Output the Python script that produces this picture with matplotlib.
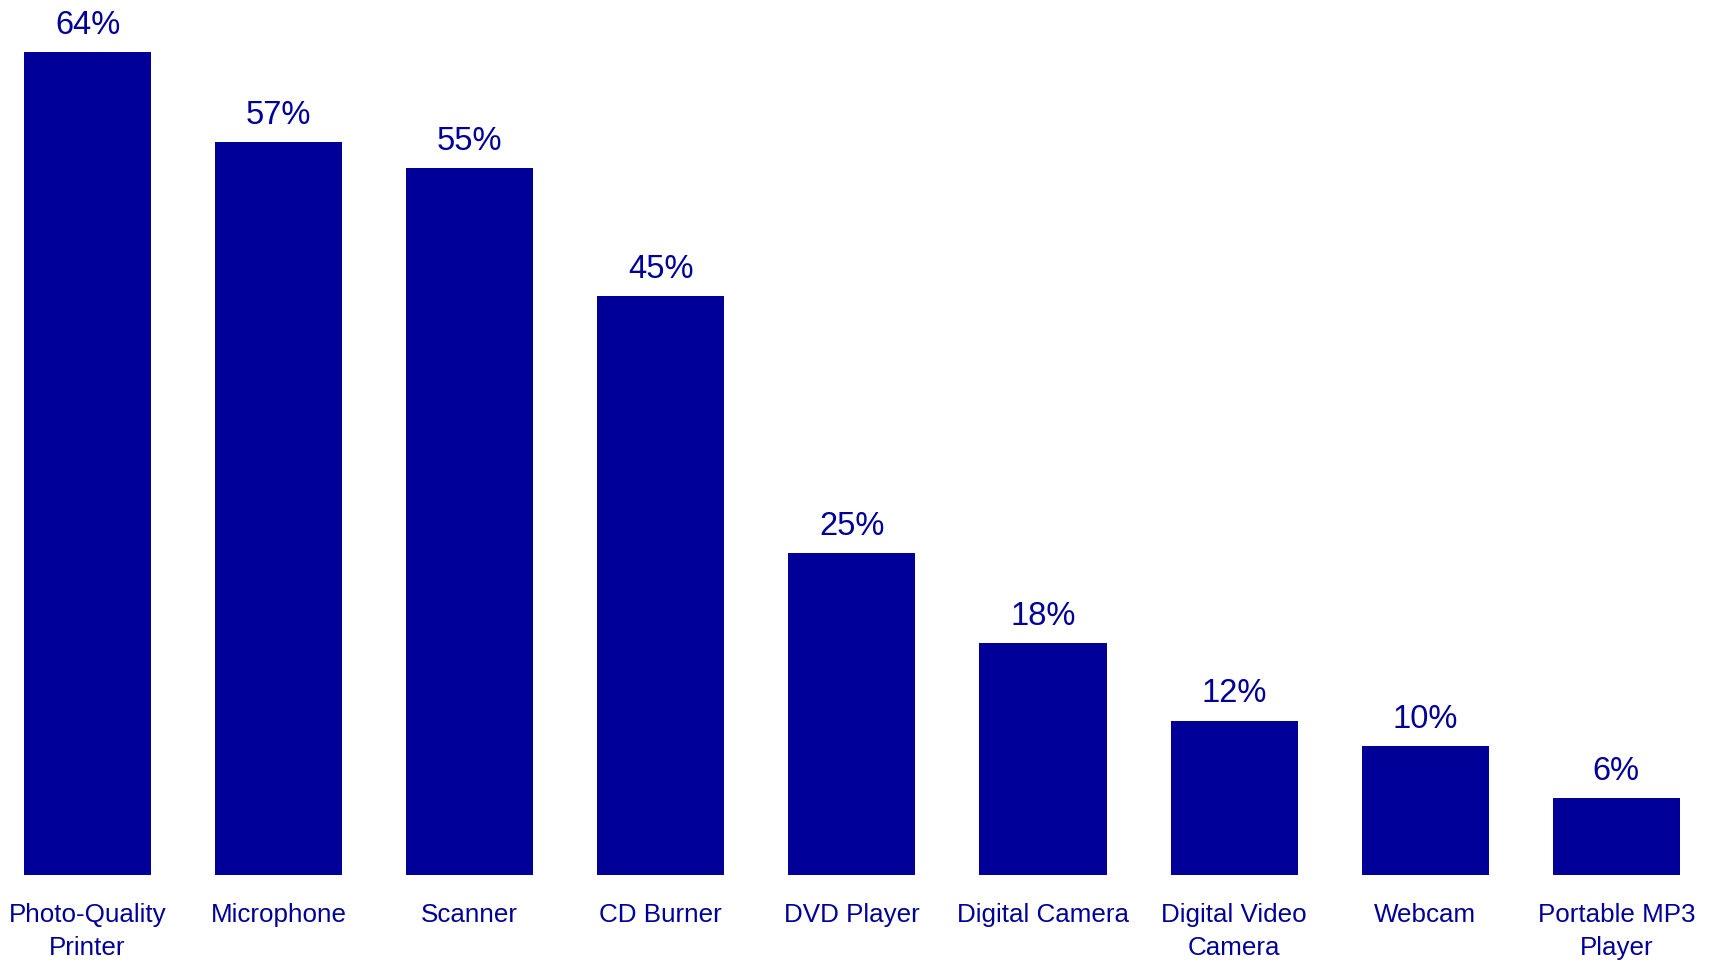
import matplotlib.pyplot as plt

categories = ['Photo-Quality\nPrinter', 'Microphone', 'Scanner', 'CD Burner', 'DVD Player',
              'Digital Camera', 'Digital Video\nCamera', 'Webcam', 'Portable MP3\nPlayer']
values = [64, 57, 55, 45, 25, 18, 12, 10, 6]

navy = '#000099'
plt.rcParams['font.family'] = ['Liberation Sans', 'DejaVu Sans']

fig = plt.figure(figsize=(17.09, 9.61), dpi=100)
ax = fig.add_axes([0, 0.0898, 1, 0.9102])

x = list(range(len(values)))
bars = ax.bar(x, values, width=0.665, color=navy)

# percentage label above each bar
for xi, v in zip(x, values):
    ax.annotate(f'{v}%', (xi, v), xytext=(0, 13), textcoords='offset points',
                ha='center', va='baseline', fontsize=23.5, color=navy)

ax.set_xlim(-0.458, 8.485)
ax.set_ylim(0, 68.07)
ax.set_xticks(x)
ax.set_xticklabels(categories, fontsize=18.7, color=navy, linespacing=1.45)
ax.tick_params(axis='x', length=0, pad=20.5)
ax.set_yticks([])
for s in ax.spines.values():
    s.set_visible(False)

fig.savefig('out.png', dpi=100)
